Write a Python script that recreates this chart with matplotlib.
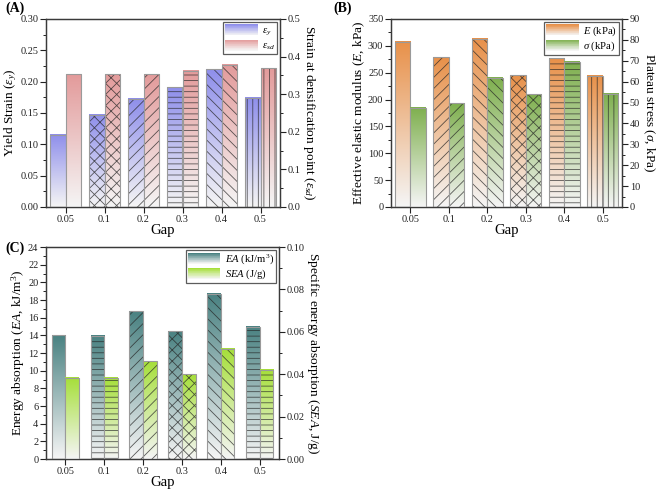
import numpy as np
import matplotlib
matplotlib.use("Agg")
import matplotlib.pyplot as plt
from matplotlib.colors import to_rgb
from matplotlib.patches import Rectangle
from matplotlib.legend_handler import HandlerBase
from matplotlib.ticker import AutoMinorLocator, MultipleLocator

# data
gaps = ["0.05", "0.1", "0.2", "0.3", "0.4", "0.5"]

yield_strain = [0.115, 0.147, 0.173, 0.191, 0.220, 0.174]   # left axis (A)
dens_strain = [0.353, 0.353, 0.353, 0.363, 0.378, 0.369]    # right axis (A)

modulus = [308, 279, 313, 245, 277, 244]                     # kPa (B)
plateau = [47.6, 49.6, 61.8, 53.9, 69.6, 54.2]               # kPa (B)

energy_abs = [14.0, 13.95, 16.75, 14.45, 18.7, 15.0]         # kJ/m3 (C)
spec_energy = [0.0384, 0.0384, 0.0461, 0.0399, 0.052, 0.042]  # J/g (C)

hatch_a = ["", "xxx", "///", "---", "\\\\\\", "|||"]
hatch_b = ["", "///", "\\\\\\", "xxx", "---", "|||"]
hatch_c = ["", "---", "///", "xxx", "\\\\\\", "---"]

plt.rcParams["font.family"] = ["Liberation Serif", "DejaVu Serif"]
plt.rcParams["mathtext.fontset"] = "custom"
plt.rcParams["mathtext.rm"] = "Liberation Serif"
plt.rcParams["mathtext.it"] = "Liberation Serif:italic"
plt.rcParams["hatch.linewidth"] = 0.6

TICK_FS = 7.4
LABEL_FS = 9.6
SPINE = "#3a3a3a"


def gradient(color, n=64):
    top = np.array(to_rgb(color))
    bottom = np.array([0.96, 0.96, 0.96])
    t = np.linspace(0, 1, n)[:, None]
    return bottom + (top - bottom) * t


class HandlerGradient(HandlerBase):
    def __init__(self, color):
        super().__init__()
        self.color = color

    def create_artists(self, legend, orig_handle, xdescent, ydescent,
                       width, height, fontsize, trans):
        cols = gradient(self.color, 16)
        step = height / len(cols)
        arts = []
        for i, c in enumerate(cols):
            arts.append(Rectangle((-xdescent, -ydescent + i * step), width,
                                  step * 1.05, facecolor=c, edgecolor="none",
                                  transform=trans))
        return arts


def gradient_bars(ax, x, heights, width, color, hatches):
    for xi, h, hatch in zip(x, heights, hatches):
        x0 = xi - width / 2
        ax.imshow(gradient(color)[:, None, :], extent=[x0, x0 + width, 0, h],
                  origin="lower", aspect="auto", interpolation="bilinear", zorder=1)
        ax.bar(xi, h, width, facecolor="none", edgecolor=(0.15, 0.15, 0.15, 0.75),
               linewidth=0, hatch=hatch, zorder=2)
        ax.bar(xi, h, width, facecolor="none", edgecolor="#9a9a9a",
               linewidth=0.8, zorder=3)


def style(ax, ylim, major, minor_n=2):
    ax.set_ylim(*ylim)
    ax.yaxis.set_major_locator(MultipleLocator(major))
    ax.yaxis.set_minor_locator(AutoMinorLocator(minor_n))
    ax.tick_params(axis="both", which="major", direction="out", length=4,
                   width=0.8, labelsize=TICK_FS, colors="#222222", pad=1.5)
    ax.tick_params(axis="y", which="minor", direction="out", length=2.2,
                   width=0.7, colors="#222222")
    for s in ax.spines.values():
        s.set_color(SPINE)
        s.set_linewidth(0.9)


def panel(rect, left_vals, right_vals, width, colors, hatches, left_lim,
          left_major, right_lim, right_major, left_label, right_label,
          leg_labels, left_fmt, right_fmt):
    ax = fig.add_axes(rect)
    ax2 = ax.twinx()
    x = np.arange(len(gaps))
    gradient_bars(ax, x - width / 2, left_vals, width, colors[0], hatches)
    gradient_bars(ax2, x + width / 2, right_vals, width, colors[1], hatches)
    for a in (ax, ax2):
        a.set_xlim(-0.5, len(gaps) - 0.5)
    style(ax, left_lim, left_major)
    style(ax2, right_lim, right_major)
    ax.yaxis.set_major_formatter(left_fmt)
    ax2.yaxis.set_major_formatter(right_fmt)
    ax.set_xticks(x)
    ax.set_xticklabels(gaps)
    ax.tick_params(axis="x", which="minor", bottom=False)
    ax.set_xlabel("Gap", fontsize=LABEL_FS + 1, labelpad=0)
    ax.set_ylabel(left_label, fontsize=LABEL_FS, labelpad=1)
    ax2.set_ylabel(right_label, fontsize=LABEL_FS, rotation=270,
                   va="bottom", labelpad=0.5)

    h1 = Rectangle((0, 0), 1, 1)
    h2 = Rectangle((0, 0), 1, 1)
    leg = ax2.legend([h1, h2], leg_labels, loc="upper right",
                     handler_map={h1: HandlerGradient(colors[0]),
                                  h2: HandlerGradient(colors[1])},
                     fontsize=TICK_FS + 0.3, frameon=True, fancybox=False,
                     borderpad=0.2, labelspacing=0.15, handlelength=3.0,
                     handleheight=1.2, handletextpad=0.4, borderaxespad=0.3)
    leg.get_frame().set_edgecolor("#333333")
    leg.get_frame().set_linewidth(0.9)
    return ax, ax2


fig = plt.figure(figsize=(6.58, 4.90), dpi=100)

panel([46 / 658, 1 - 207 / 490, 234 / 658, 188 / 490],
      yield_strain, dens_strain, 0.40, ["#8f8feb", "#e39b9b"], hatch_a,
      (0, 0.30), 0.05, (0, 0.5), 0.1,
      r"Yield Strain ($\varepsilon_y$)",
      r"Strain at densification point ($\varepsilon_{sd}$)",
      [r"$\varepsilon_y$", r"$\varepsilon_{sd}$"], "{x:.2f}", "{x:.1f}")

panel([391 / 658, 1 - 207 / 490, 231 / 658, 188 / 490],
      modulus, plateau, 0.40, ["#e8914a", "#7fb04f"], hatch_b,
      (0, 350), 50, (0, 90), 10,
      r"Effective elastic modulus ($E$, kPa)",
      r"Plateau stress ($\sigma$, kPa)",
      [r"$E$ (kPa)", r"$\sigma$ (kPa)"], "{x:.0f}", "{x:.0f}")

panel([46 / 658, 1 - 459 / 490, 233 / 658, 212 / 490],
      energy_abs, spec_energy, 0.35, ["#4a8282", "#a6df3a"], hatch_c,
      (0, 24), 2, (0, 0.10), 0.02,
      r"Energy absorption ($EA$, kJ/m$^3$)",
      r"Specific energy absorption ($SEA$, J/g)",
      [r"$EA$ (kJ/m$^3$)", r"$SEA$ (J/g)"], "{x:.0f}", "{x:.2f}")

fig.text(5 / 658, 1 - 2 / 490, "(A)", fontsize=10, weight="bold", va="top")
fig.text(333 / 658, 1 - 2 / 490, "(B)", fontsize=10, weight="bold", va="top")
fig.text(5 / 658, 1 - 248 / 490, "(C)", fontsize=10, weight="bold", va="center")

fig.savefig("out.png", dpi=100)
